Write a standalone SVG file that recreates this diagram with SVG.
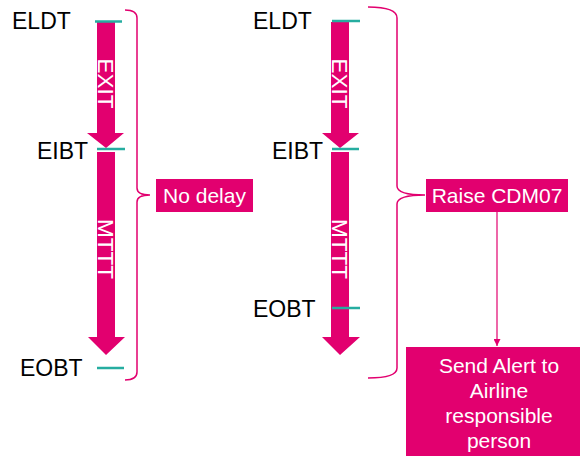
<svg xmlns="http://www.w3.org/2000/svg" width="584" height="456" viewBox="0 0 584 456">
  <defs>
    <style>
      .lbl { font-family: "Liberation Sans", Arial, sans-serif; font-size: 23px; fill: #000; }
      .box { fill: #E2006F; }
      .boxt { font-family: "Liberation Sans", Arial, sans-serif; font-size: 21px; fill: #fff; text-anchor: middle; }
      .arr { fill: #E2006F; }
      .arrt { font-family: "Liberation Sans", Arial, sans-serif; font-size: 22.5px; fill: #fff; text-anchor: middle; }
      .tick { stroke: #26ADA0; stroke-width: 2.5; fill: none; }
      .brace { stroke: #E2006F; stroke-width: 1.5; fill: none; }
      .conn { stroke: #E2006F; stroke-width: 1.2; fill: none; }
    </style>
    <marker id="ah" viewBox="0 0 10 10" refX="10" refY="5" markerWidth="7" markerHeight="7" markerUnits="userSpaceOnUse" orient="auto">
      <path d="M0,0 L10,5 L0,10 z" fill="#E2006F"/>
    </marker>
  </defs>

  <!-- Left timeline -->
  <g id="left-timeline">
    <path class="arr" d="M97,22 H115 V133 H124 L106,148 L87,133 H97 Z"/>
    <path class="arr" d="M97,152 H115 V337 H125 L106,355 L88,337 H97 Z"/>
    <text class="arrt" transform="translate(98,83.5) rotate(90)">EXIT</text>
    <text class="arrt" transform="translate(98,249) rotate(90)">MTTT</text>
    <line class="tick" x1="95" y1="21.5" x2="122" y2="21.5"/>
    <line class="tick" x1="97" y1="149" x2="125" y2="149"/>
    <line class="tick" x1="97" y1="368" x2="124" y2="368"/>
    <text class="lbl" x="12" y="29">ELDT</text>
    <text class="lbl" x="37" y="159">EIBT</text>
    <text class="lbl" x="20" y="376">EOBT</text>
  </g>

  <!-- Right timeline -->
  <g id="right-timeline">
    <path class="arr" d="M331,22 H349 V133 H359 L340,148 L322,133 H331 Z"/>
    <path class="arr" d="M331,152 H349 V337 H360 L340,355 L322,337 H331 Z"/>
    <text class="arrt" transform="translate(332,83.5) rotate(90)">EXIT</text>
    <text class="arrt" transform="translate(332,249) rotate(90)">MTTT</text>
    <line class="tick" x1="332" y1="21" x2="360" y2="21"/>
    <line class="tick" x1="332" y1="149" x2="359" y2="149"/>
    <line class="tick" x1="332" y1="308" x2="360" y2="308"/>
    <text class="lbl" x="253" y="29">ELDT</text>
    <text class="lbl" x="272" y="159">EIBT</text>
    <text class="lbl" x="253" y="317">EOBT</text>
  </g>

  <!-- Braces -->
  <g id="braces">
    <path class="brace" d="M125,10 Q137,10 137,18 V188 Q137,195 150,195 Q137,195 137,202 V372 Q137,380 125,380"/>
    <path class="brace" d="M368,7 Q397,7 397,18 V186 Q397,195 425,195 Q397,195 397,204 V368 Q397,378 368,378"/>
  </g>

  <g id="no-delay">
    <rect class="box" x="156" y="179" width="97" height="33"/>
    <text class="boxt" x="204.5" y="203">No delay</text>
  </g>

  <g id="raise-cdm07">
    <rect class="box" x="426" y="179" width="142" height="33"/>
    <text class="boxt" x="497" y="203">Raise CDM07</text>
  </g>

  <g id="send-alert">
    <rect class="box" x="406" y="347" width="174" height="112"/>
    <text class="boxt" x="499" y="373">Send Alert to</text>
    <text class="boxt" x="499" y="398">Airline</text>
    <text class="boxt" x="499" y="423">responsible</text>
    <text class="boxt" x="499" y="448">person</text>
  </g>

  <g id="connectors">
    <line class="conn" x1="497" y1="212" x2="497" y2="346" marker-end="url(#ah)"/>
  </g>
</svg>
